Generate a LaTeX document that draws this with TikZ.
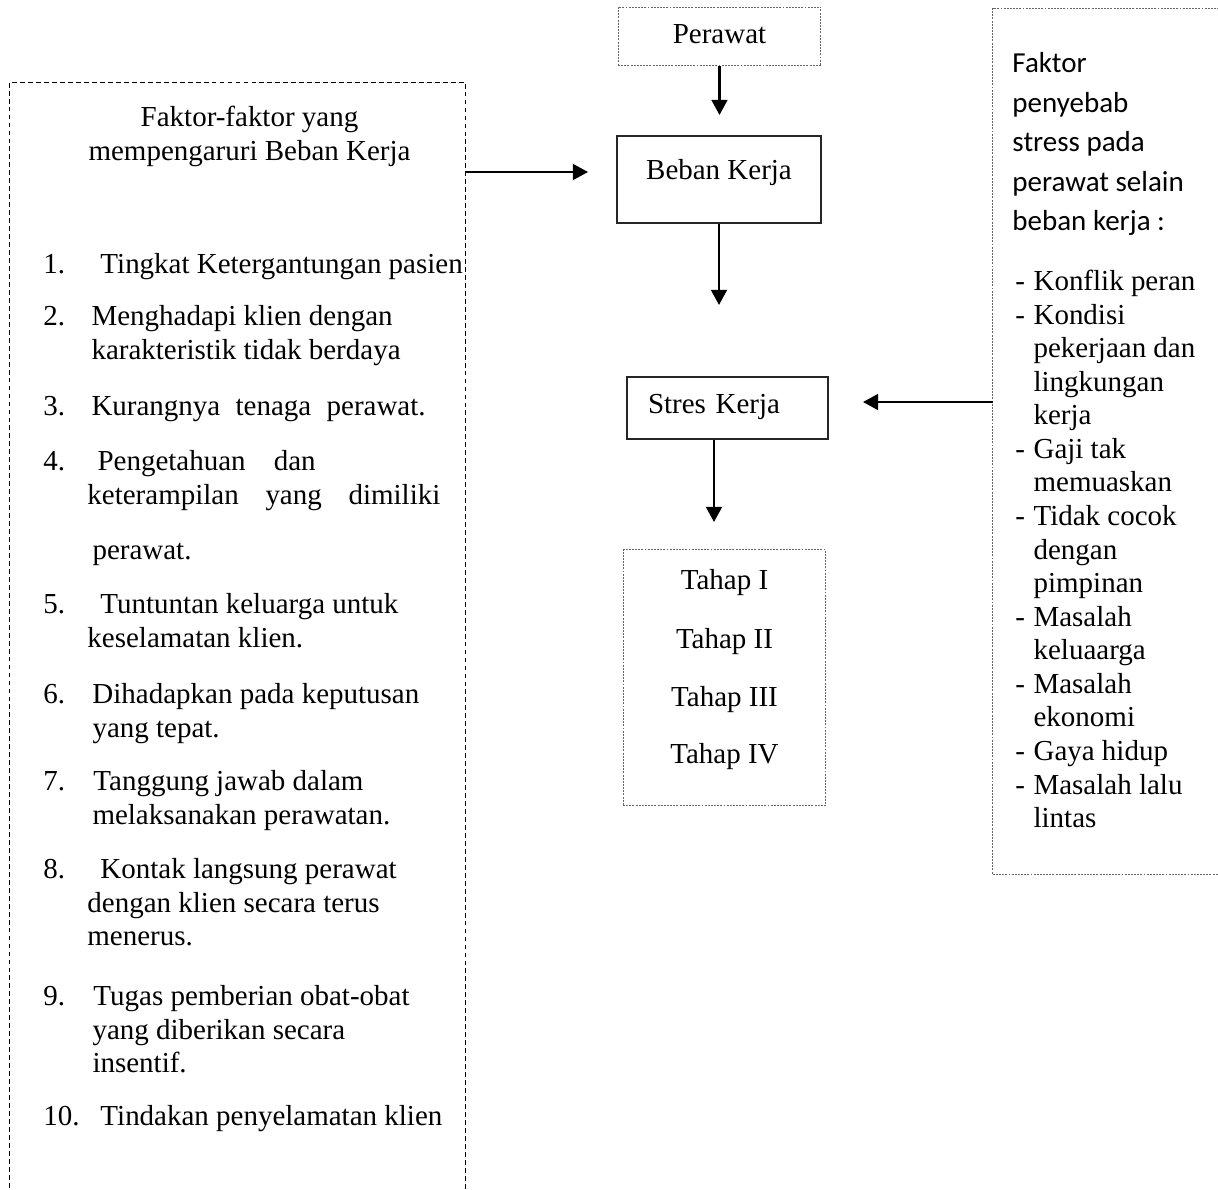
\documentclass[tikz,border=0pt]{standalone}
\usepackage{fontspec}
\setmainfont{Liberation Serif}
\newfontfamily\calibri{Carlito}
\usetikzlibrary{arrows.meta}

\newcommand{\butir}{\makebox[7.5pt][l]{-}}
\newcommand{\lanjut}{\hspace*{7.5pt}}

\begin{document}
\begin{tikzpicture}[
    x=0.414pt, y=-0.414pt,
    every node/.style={font=\fontsize{12pt}{13.9pt}\selectfont},
    dotline/.style={draw=black!60, line width=0.4pt, dash pattern=on 0.8pt off 0.5pt},
    dotbox/.style={dotline, inner sep=0pt, minimum width=84pt},
    solidbox/.style={draw=black!85, line width=0.5pt, inner sep=0pt},
    dashline/.style={draw=black, line width=0.45pt, dash pattern=on 2pt off 1.3pt},
    hidden/.style={draw=none, inner sep=0pt},
    txt/.style={inner sep=0pt, align=left},
    arrow/.style={-{Triangle[width=6.6pt,length=6.3pt]}, line width=0.9pt}
]
    \useasboundingbox (0,0) rectangle (1218,1189);

    % Middle column
    \node[dotbox, minimum height=24.4pt, text height=7.2pt, text depth=1pt] (perawat) at (719.5,36.5) {Perawat};
    \node[solidbox, minimum width=84.5pt, minimum height=36pt, text height=8pt, text depth=8pt] (beban) at (719,179.5) {Beban Kerja};
    \node[solidbox, minimum width=83.2pt, minimum height=25.7pt, inner xsep=8.7pt, text width=65.8pt, align=left, text height=7pt, text depth=2.86pt] (stres) at (727.5,408) {Stres Kerja};
    \node[dotbox, minimum height=105.6pt] (tahap) at (724.5,677.5) {};

    \node[anchor=base, inner sep=0pt] (tahap1) at (724.5,589) {Tahap I};
    \node[anchor=base, inner sep=0pt] (tahap2) at (724.5,648) {Tahap II};
    \node[anchor=base, inner sep=0pt] (tahap3) at (724.5,706) {Tahap III};
    \node[anchor=base, inner sep=0pt] (tahap4) at (724.5,763) {Tahap IV};

    \coordinate (tip1) at (719.5,115);
    \coordinate (tip2) at (719,305);
    \coordinate (tip3) at (714,522);
    \draw[arrow] (perawat.south) -- (tip1);
    \draw[arrow] (beban.south) -- (tip2);
    \draw[arrow] (stres.south -| tip3) -- (tip3);

    % Left box (open at the bottom)
    \node[hidden, minimum width=188.4pt, minimum height=460.4pt] (faktorbox) at (237.5,639) {};
    \draw[dashline] (faktorbox.south west) -- (faktorbox.north west) -- (faktorbox.north east) -- (faktorbox.south east);

    \node[anchor=north, inner sep=0pt, align=center, font=\fontsize{12pt}{14.1pt}\selectfont] (faktorjudul) at (249.5,102.5) {\strut Faktor-faktor yang\\mempengaruri Beban Kerja};

    \node[txt, anchor=north west] (item1) at (43,249.5) {\strut\makebox[23.6pt][l]{1.}Tingkat Ketergantungan pasien};
    \node[txt, anchor=north west] (item2) at (43,301.5) {\strut\makebox[19.9pt][l]{2.}Menghadapi klien dengan\\\hspace*{19.9pt}karakteristik tidak berdaya};
    \node[txt, anchor=north west] (item3) at (43,391.5) {\strut\makebox[19.9pt][l]{3.}\makebox[138.3pt][s]{Kurangnya tenaga perawat.}};
    \node[txt, anchor=north west] (item4) at (43,446.5) {\strut\makebox[22.4pt][l]{4.}\makebox[90.3pt][s]{Pengetahuan dan}\\\hspace*{18.2pt}\makebox[146.1pt][s]{keterampilan yang dimiliki}\\[8.9pt]\hspace*{20.3pt}perawat.};
    \node[txt, anchor=north west] (item5) at (43,589.5) {\strut\makebox[23.6pt][l]{5.}Tuntuntan keluarga untuk\\\hspace*{18.2pt}keselamatan klien.};
    \node[txt, anchor=north west] (item6) at (43,679.5) {\strut\makebox[20.3pt][l]{6.}Dihadapkan pada keputusan\\\hspace*{20.3pt}yang tepat.};
    \node[txt, anchor=north west] (item7) at (43,766.5) {\strut\makebox[20.7pt][l]{7.}Tanggung jawab dalam\\\hspace*{20.3pt}melaksanakan perawatan.};
    \node[txt, anchor=north west] (item8) at (43,854.5) {\strut\makebox[23.6pt][l]{8.}Kontak langsung perawat\\\hspace*{18.2pt}dengan klien secara terus\\\hspace*{18.2pt}menerus.};
    \node[txt, anchor=north west] (item9) at (43,981.5) {\strut\makebox[20.7pt][l]{9.}Tugas pemberian obat-obat\\\hspace*{20.3pt}yang diberikan secara\\\hspace*{20.3pt}insentif.};
    \node[txt, anchor=north west] (item10) at (43,1101.5) {\strut\makebox[23.6pt][l]{10.}Tindakan penyelamatan klien};

    \coordinate (tip4) at (588,172);
    \draw[arrow] (faktorbox.east |- tip4) -- (tip4);

    % Right box (cut at the page edge)
    \node[hidden, minimum width=96pt, minimum height=358.1pt] (sebabbox) at (1109,441.5) {};
    \draw[dotline] (sebabbox.north east) -- (sebabbox.north west) -- (sebabbox.south west) -- (sebabbox.south east);

    \node[anchor=north west, inner sep=0pt, align=left, font=\calibri\fontsize{12pt}{16.4pt}\selectfont] (sebabjudul) at (1012,44.3) {\strut Faktor\\penyebab\\stress pada\\perawat selain\\beban kerja :};
    \node[txt, anchor=north west] (sebablist) at (1015,266.5) {\strut\butir Konflik peran\\\butir Kondisi\\\lanjut pekerjaan dan\\\lanjut lingkungan\\\lanjut kerja\\\butir Gaji tak\\\lanjut memuaskan\\\butir Tidak cocok\\\lanjut dengan\\\lanjut pimpinan\\\butir Masalah\\\lanjut keluaarga\\\butir Masalah\\\lanjut ekonomi\\\butir Gaya hidup\\\butir Masalah lalu\\\lanjut lintas};

    \coordinate (tip5) at (863,402);
    \draw[arrow] (sebabbox.west |- tip5) -- (tip5);
\end{tikzpicture}
\end{document}
